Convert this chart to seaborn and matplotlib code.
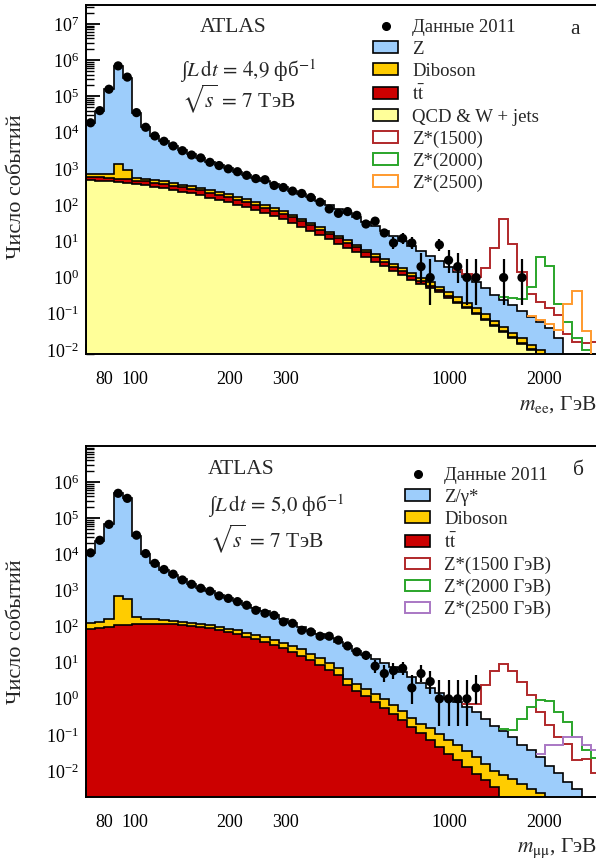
import numpy as np
import pandas as pd
import matplotlib
matplotlib.use("Agg")
import matplotlib.pyplot as plt
import seaborn as sns
from matplotlib.patches import Patch
from matplotlib.lines import Line2D
from matplotlib.ticker import FixedLocator, FixedFormatter, LogLocator, NullFormatter, LogFormatterSciNotation

# ---------------- data ----------------
# 56 logarithmic mass bins from 70 to 3000 GeV
mass_edges = np.geomspace(70, 3000, 57)

# --- panel a: electrons ---
ee_data = [18600, 40300, 157000, 692000, 339000, 35500, 14000, 8050, 5750, 4270,
           3160, 2400, 2000, 1510, 1230, 1000, 832, 661, 537, 501,
           347, 305, 243, 209, 162, 120, 78, 59, 66, 52,
           30, 36, 17, 9, 12, 9, 2, 1, 8, 3,
           2, 1, 1, 0, 0, 1, 0, 1, 0, 0,
           0, 0, 0, 0, 0, 0]
ee_z = [17100, 39100, 158000, 675000, 315000, 34900, 13600, 7800, 5300, 3860,
        2880, 2180, 1690, 1330, 1030, 826, 668, 532, 431, 358,
        290, 242, 197, 162, 130, 101, 81, 65, 49.6, 37.8,
        28.8, 21.9, 15.9, 11.4, 8.2, 6.1, 4.5, 3.2, 2.26, 1.6,
        1.17, 0.85, 0.62, 0.405, 0.274, 0.196, 0.144, 0.096, 0.067, 0.0475,
        0.034, 0.0164, 0.0028, 0.0014, 0.0005, 0.0001]
ee_diboson = [120, 117, 140, 824, 434, 90, 86, 75, 69, 62,
              53, 49, 44, 38, 33, 29, 24, 21, 17, 14.5,
              12, 9.8, 7.5, 5.8, 4.5, 3.4, 2.6, 2.0, 1.5, 1.19,
              0.88, 0.66, 0.49, 0.38, 0.30, 0.24, 0.19, 0.15, 0.12, 0.092,
              0.065, 0.046, 0.0345, 0.024, 0.016, 0.011, 0.0076, 0.0052, 0.0035, 0.0025,
              0.0017, 0.0011, 0.0007, 0.00045, 0.00028, 0.00018]
ee_ttbar = [113, 113, 112, 109, 108, 104, 101, 96, 93, 86,
            80, 76, 70, 61, 55, 48, 40, 36, 30, 25,
            20.5, 16.4, 13.4, 10.4, 8.1, 6.1, 4.65, 3.5, 2.7, 1.75,
            1.3, 0.96, 0.71, 0.5, 0.33, 0.22, 0.14, 0.09, 0.055, 0.034,
            0.02, 0.012, 0.0072, 0.0043, 0.0026, 0.0016, 0.001, 0.0006, 0.0004, 0.0003,
            0.0002, 0.00013, 0.00008, 0.00005, 0.00003, 0.00002]
ee_qcd = [490, 470, 450, 420, 400, 370, 350, 320, 290, 260,
          230, 210, 190, 160, 140, 120, 100, 87, 72, 60,
          50, 41, 32.8, 25.4, 19.8, 14.9, 11.3, 8.6, 6.5, 5.0,
          3.71, 2.75, 2.04, 1.51, 1.17, 0.87, 0.66, 0.50, 0.39, 0.28,
          0.197, 0.14, 0.099, 0.069, 0.0465, 0.0315, 0.0217, 0.015, 0.0102, 0.0072,
          0.0049, 0.0032, 0.002, 0.0013, 0.0008, 0.0005]
ee_zp1500 = [0] * 40 + [0.13, 0.2, 0.3, 1.36, 6.0, 40.5, 8.5, 1.33, 0.28, 0.156,
                        0.1, 0.074, 0.022, 0.0136, 0.014, 0.016]
ee_zp2000 = [0] * 45 + [0.05, 0.09, 0.146, 0.47, 3.53, 2.03, 0.17, 0.052, 0.018, 0.0084, 0.005]
ee_zp2500 = [0] * 48 + [0.008, 0.01, 0.012, 0.015, 0.18, 0.41, 0.032, 0.006]

# --- panel b: muons ---
mm_data = [11000, 24500, 67600, 490000, 355000, 33900, 10500, 5620, 3800, 2820,
           1950, 1480, 1150, 955, 708, 603, 490, 389, 282, 234,
           204, 135, 123, 79, 71, 54, 54, 42, 29, 20,
           16, 8, 5, 6, 7, 2, 5, 3, 1, 1,
           1, 1, 2, 0, 0, 0, 0, 0, 0, 0,
           0, 0, 0, 0, 0, 0]
mm_z = [10900, 23900, 67400, 489000, 354000, 31400, 9830, 5590, 3650, 2600,
        1900, 1420, 1080, 848, 661, 530, 423, 339, 272, 213,
        161, 122, 93.5, 71.5, 58.1, 47.1, 39.2, 30.3, 24.6, 18.8,
        14.7, 11.6, 9.0, 6.73, 5.04, 3.77, 2.62, 1.85, 1.31, 1.0,
        0.743, 0.568, 0.413, 0.266, 0.164, 0.121, 0.081, 0.0494, 0.0349, 0.0221,
        0.0122, 0.0077, 0.0045, 0.0029, 0.0008, 0.0005]
mm_diboson = [36, 39, 58, 601, 450, 69, 46, 38, 34, 30,
              25, 21, 19, 18, 17, 15, 16, 16, 14, 13,
              12, 10.5, 9.5, 8.5, 6.1, 4.7, 3.6, 2.4, 1.15, 0.97,
              0.69, 0.51, 0.395, 0.296, 0.197, 0.136, 0.09, 0.079, 0.058, 0.044,
              0.031, 0.022, 0.0155, 0.0099, 0.0066, 0.0063, 0.0054, 0.004, 0.0029, 0.0023,
              0.0013, 0.0008, 0.0005, 0.0003, 0.0002, 0.0001]
mm_ttbar = [87, 93, 100, 107, 112, 117, 120, 120, 117, 115,
            110, 105, 98, 89, 81, 72, 62, 52, 45, 37,
            31, 25, 20, 15.5, 11.7, 8.5, 6.2, 4.5, 2.4, 1.66,
            1.17, 0.81, 0.56, 0.38, 0.26, 0.166, 0.11, 0.072, 0.047, 0.030,
            0.020, 0.013, 0.0085, 0.0056, 0.0036, 0.0013, 0.0006, 0.0003, 0.0002, 0.0001,
            0.00005, 0.00003, 0.00002, 0.00001, 0.00001, 0.00001]
mm_zp1500 = [0] * 41 + [0.12, 0.3, 2.1, 5.7, 9.0, 5.8, 2.77, 1.22, 0.41, 0.17,
                        0.077, 0.052, 0.017, 0.021, 0.0083]
mm_zp2000 = [0] * 45 + [0.02, 0.048, 0.23, 0.56, 0.89, 0.86, 0.43, 0.22, 0.082, 0.037, 0.023]
mm_zp2500 = [0] * 49 + [0.005, 0.038, 0.043, 0.08, 0.082, 0.05, 0.038]

x_tick_values = [80, 100, 200, 300, 1000, 2000]

# ---------------- style ----------------
C_Z = "#9dcdfb"
C_DIB = "#ffcc00"
C_TT = "#cc0000"
C_QCD = "#ffff99"
C_S1 = "#b0282a"
C_S2 = "#2aa52a"
C_S3e = "#ff9a2e"
C_S3m = "#a977c4"

sns.set_theme(style="ticks")
plt.rcParams["font.family"] = ["Liberation Serif", "DejaVu Serif"]
plt.rcParams["mathtext.fontset"] = "stix"
plt.rcParams["axes.linewidth"] = 1.4

W, H = 596, 863
fig = plt.figure(figsize=(W / 100, H / 100), dpi=100)


def fx(px):
    return px / W


def fy(py):
    return 1 - py / H


centers = np.sqrt(mass_edges[:-1] * mass_edges[1:])


def poisson_interval(n):
    n = np.asarray(n, float)
    m = np.maximum(n, 1)
    lo = np.where(n > 0, n * (1 - 1 / (9 * m) - 1 / (3 * np.sqrt(m))) ** 3, 0)
    hi = (n + 1) * (1 - 1 / (9 * (n + 1)) + 1 / (3 * np.sqrt(n + 1))) ** 3
    return lo, hi


def draw_panel(ax, layers, colors, data, signals, sig_colors, ylim, ymajors):
    ax.set_xscale("log")
    ax.set_yscale("log")
    stack = np.cumsum(np.vstack([np.asarray(l, float) for l in layers]), axis=0)
    total = stack[-1]
    for i in range(len(layers) - 1, -1, -1):
        ax.stairs(stack[i], mass_edges, baseline=1e-7, fill=True, color=colors[i],
                  lw=0, zorder=1 + (len(layers) - i) * 0.01)
    for i in range(len(layers)):
        ax.stairs(stack[i], mass_edges, baseline=1e-7, fill=False, color="black",
                  lw=1.2, zorder=2)
    for sig, c in zip(signals, sig_colors):
        sig = np.asarray(sig, float)
        vals = np.where(sig > 0, total + sig, np.nan)
        ax.stairs(vals, mass_edges, baseline=None, color=c, lw=1.4, zorder=3)
    d = np.asarray(data, float)
    m = d > 0
    lo, hi = poisson_interval(d)
    ax.errorbar(centers[m], d[m], yerr=[d[m] - lo[m], hi[m] - d[m]], fmt="none",
                ecolor="black", elinewidth=1.6, capsize=0, zorder=4)
    df = pd.DataFrame({"m": centers[m], "n": d[m]})
    sns.scatterplot(data=df, x="m", y="n", color="black", s=44, edgecolor="none",
                    ax=ax, zorder=5, legend=False)
    ax.set_xlim(70, 3000)
    ax.set_ylim(*ylim)
    ax.set_xlabel("")
    ax.set_ylabel("")
    # x ticks
    ax.xaxis.set_major_locator(FixedLocator([100, 1000]))
    ax.xaxis.set_major_formatter(FixedFormatter(["100", "1000"]))
    minor = [70, 80, 90, 200, 300, 400, 500, 600, 700, 800, 900, 2000, 3000]
    ax.xaxis.set_minor_locator(FixedLocator(minor))
    ax.xaxis.set_minor_formatter(FixedFormatter(
        [str(v) if v in x_tick_values else "" for v in minor]))
    # y ticks
    ax.yaxis.set_major_locator(FixedLocator(ymajors))
    ax.yaxis.set_major_formatter(LogFormatterSciNotation())
    ax.yaxis.set_minor_locator(LogLocator(base=10, subs=np.arange(2, 10), numticks=50))
    ax.yaxis.set_minor_formatter(NullFormatter())
    ax.tick_params(axis="both", which="both", direction="in", top=False, right=False,
                   colors="black", labelcolor="black")
    ax.tick_params(axis="x", which="major", length=10, width=1.3, pad=12, labelsize=13)
    ax.tick_params(axis="x", which="minor", length=7, width=1.2, pad=12, labelsize=13)
    ax.tick_params(axis="y", which="major", length=10, width=1.3, pad=5, labelsize=13)
    ax.tick_params(axis="y", which="minor", length=6, width=1.0)
    for s in ax.spines.values():
        s.set_color("black")
        s.set_linewidth(1.4)
    ax.set_facecolor("white")


ax1 = fig.add_axes([fx(86), fy(354), (600 - 86) / W, (354 - 5) / H])
draw_panel(ax1, [ee_qcd, ee_ttbar, ee_diboson, ee_z], [C_QCD, C_TT, C_DIB, C_Z],
           ee_data, [ee_zp1500, ee_zp2000, ee_zp2500], [C_S1, C_S2, C_S3e],
           (10 ** -2.11, 10 ** 7.52), [10.0 ** k for k in range(-2, 8)])

ax2 = fig.add_axes([fx(86), fy(797), (600 - 86) / W, (797 - 446) / H])
draw_panel(ax2, [mm_ttbar, mm_diboson, mm_z], [C_TT, C_DIB, C_Z],
           mm_data, [mm_zp1500, mm_zp2000, mm_zp2500], [C_S1, C_S2, C_S3m],
           (10 ** -2.72, 10 ** 7.0), [10.0 ** k for k in range(-2, 7)])

# ---------------- texts ----------------
fs = 15.5
for ypx in (187, 632):
    fig.text(fx(17), fy(ypx), "Число событий", rotation=90, ha="center", va="center",
             fontsize=16)

fig.text(fx(200), fy(27), "ATLAS", ha="left", va="center", fontsize=fs)
fig.text(fx(180), fy(71), "∫" + r"$L\,\mathrm{d}t\,=\,4{,}9$ фб$^{-1}$", ha="left",
         va="center", fontsize=15)
fig.text(fx(182), fy(99), r"$\sqrt{s}\,=\,7$ ТэВ", ha="left", va="center", fontsize=fs)
fig.text(fx(575), fy(30), "а", ha="center", va="center", fontsize=fs)

fig.text(fx(208), fy(469), "ATLAS", ha="left", va="center", fontsize=fs)
fig.text(fx(208), fy(506), "∫" + r"$L\,\mathrm{d}t\,=\,5{,}0$ фб$^{-1}$", ha="left",
         va="center", fontsize=15)
fig.text(fx(210), fy(539), r"$\sqrt{s}\,=\,7$ ТэВ", ha="left", va="center", fontsize=fs)
fig.text(fx(578), fy(470), "б", ha="center", va="center", fontsize=fs)

fig.text(fx(597), fy(405), r"$m_{\mathrm{ee}}$, ГэВ", ha="right", va="center", fontsize=fs)
fig.text(fx(597), fy(848), r"$m_{\mathrm{μμ}}$, ГэВ", ha="right", va="center", fontsize=fs)

# ---------------- legends ----------------
def sig_patch(c):
    return Patch(facecolor="white", edgecolor=c, linewidth=1.4)


def bg_patch(c):
    return Patch(facecolor=c, edgecolor="black", linewidth=1.2)


dot = Line2D([], [], marker="o", color="black", ls="none", markersize=5.5)
leg_kw = dict(loc="upper left", bbox_transform=fig.transFigure, frameon=False,
              fontsize=13.5, handlelength=1.35, handleheight=0.55, handletextpad=0.75,
              labelspacing=0.255, borderpad=0, borderaxespad=0)

tt_label = r"$\mathrm{t\bar{t}}$"

fig.legend([dot, bg_patch(C_Z), bg_patch(C_DIB), bg_patch(C_TT), bg_patch(C_QCD),
            sig_patch(C_S1), sig_patch(C_S2), sig_patch(C_S3e)],
           ["Данные 2011", "Z", "Diboson", tt_label, "QCD & W + jets",
            "Z*(1500)", "Z*(2000)", "Z*(2500)"],
           bbox_to_anchor=(fx(373), fy(19)), **leg_kw)

fig.legend([dot, bg_patch(C_Z), bg_patch(C_DIB), bg_patch(C_TT),
            sig_patch(C_S1), sig_patch(C_S2), sig_patch(C_S3m)],
           ["Данные 2011", "Z/γ*", "Diboson", tt_label,
            "Z*(1500 ГэВ)", "Z*(2000 ГэВ)", "Z*(2500 ГэВ)"],
           bbox_to_anchor=(fx(405), fy(467)), **leg_kw)

fig.savefig("out.png", dpi=100)
